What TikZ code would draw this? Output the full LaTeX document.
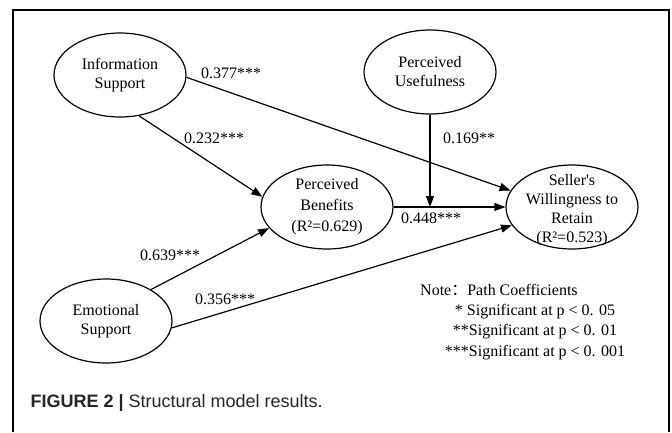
\documentclass[tikz,border=0pt]{standalone}
\usepackage{fontspec}
\setmainfont{Liberation Serif}
\newfontfamily\capfont{Liberation Sans}
\newfontfamily\cjk{Noto Sans CJK SC}
\usetikzlibrary{arrows.meta,positioning,shapes.geometric}

\begin{document}
\begin{tikzpicture}[x=1pt, y=-1pt,
    every node/.style={font=\fontsize{16}{19}\selectfont},
    latent/.style={draw, ellipse, line width=1.2pt, minimum width=132pt, minimum height=84pt, inner sep=0pt, align=center},
    link/.style={line width=1.2pt, -{Triangle[length=11pt,width=8pt]}},
    coef/.style={inner sep=0pt}]
    \useasboundingbox (0,0) rectangle (672,432);
    \draw[line width=1.2pt] (13,432) -- (13,10) -- (669,10) -- (669,432);

    \node[latent] (info) at (120,75) {Information\\Support};
    \node[latent] (useful) at (430,72) {Perceived\\Usefulness};
    \node[latent, font=\fontsize{16}{21}\selectfont] (benefit) at (327,207) {Perceived\\Benefits\\(R²=0.629)};
    \node[latent, label={[align=center, yshift=-3pt]center:Seller\textquotesingle s\\Willingness to\\Retain\\(R²=0.523)}] (retain) at (572,207) {};
    \node[latent] (emotion) at (106,321) {Emotional\\Support};

    \coordinate (joint) at (useful.south |- benefit.east);
    \draw[link] (info.-65) -- (benefit.171);
    \draw[link] (info.-2) -- (retain.165);
    \draw[link] (useful.south) -- (joint);
    \draw[link] (benefit) -- (retain);
    \draw[link] (emotion.35) -- (benefit.200);
    \draw[link] (emotion.-6) -- (retain.197);

    \node[coef] (c377) at (231,73) {0.377***};
    \node[coef] (c232) at (214,138) {0.232***};
    \node[coef] (c169) at (469,138) {0.169**};
    \node[coef] (c448) at (431,218) {0.448***};
    \node[coef] (c639) at (170,255) {0.639***};
    \node[coef] (c356) at (225,299) {0.356***};

    \node[coef, anchor=west] (note) at (420,290) {Note{\cjk ：}Path Coefficients};
    \node[coef, align=center, font=\fontsize{16}{20.5}\selectfont] (levels) at (535,332) {* Significant at p < 0. 05\\**Significant at p < 0. 01\\***Significant at p < 0. 001};

    \node[anchor=west, font=\capfont\fontsize{18}{20}\selectfont, text=black!85] (caption) at (27,403) {\textbf{FIGURE 2 |} Structural model results.};
\end{tikzpicture}
\end{document}
